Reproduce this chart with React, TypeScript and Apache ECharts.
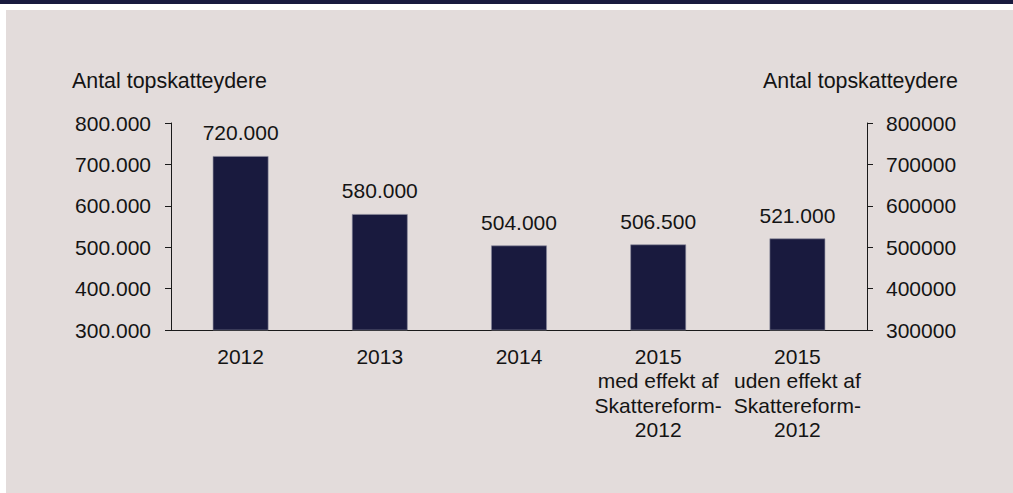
import React, { useEffect, useRef } from "react";
import * as echarts from "echarts";

const categories = [
  "2012",
  "2013",
  "2014",
  "2015\nmed effekt af\nSkattereform-\n2012",
  "2015\nuden effekt af\nSkattereform-\n2012",
];
const values = [720000, 580000, 504000, 506500, 521000];
const axisName = "Antal topskatteydere";
const yMin = 300000;
const yMax = 800000;
const yStep = 100000;

const FONT = "'Liberation Sans', Arial, sans-serif";
const BG = "#e3dcdb";
const NAVY = "#191a3e";
const TEXT = "#141414";

const dotThousands = (v: number) =>
  String(Math.round(v)).replace(/\B(?=(\d{3})+(?!\d))/g, ".");

export default function App() {
  const ref = useRef<HTMLDivElement>(null);
  useEffect(() => {
    if (!ref.current) return;
    const chart = echarts.init(ref.current, undefined, { renderer: "svg" });
    chart.setOption({
      animation: false,
      backgroundColor: "#ffffff",
      textStyle: { fontFamily: FONT },
      graphic: [
        { type: "rect", z: -10, shape: { x: 0, y: 0, width: 1013, height: 4 }, style: { fill: NAVY } },
        { type: "rect", z: -10, shape: { x: 6, y: 10, width: 1007, height: 483 }, style: { fill: BG } },
        {
          type: "text",
          x: 72,
          y: 70,
          style: { text: axisName, font: `21.4px ${FONT}`, fill: TEXT, align: "left" },
        },
        {
          type: "text",
          x: 958,
          y: 70,
          style: { text: axisName, font: `21.4px ${FONT}`, fill: TEXT, align: "right" },
        },
      ],
      grid: { left: 171, right: 146, top: 123, bottom: 163, containLabel: false },
      xAxis: {
        type: "category",
        data: categories,
        axisLine: { lineStyle: { color: "#1a1a1a", width: 1 } },
        axisTick: { show: false },
        axisLabel: {
          color: TEXT,
          fontSize: 21,
          fontFamily: FONT,
          lineHeight: 24.5,
          margin: 14,
          interval: 0,
        },
      },
      yAxis: [
        {
          type: "value",
          min: yMin,
          max: yMax,
          interval: yStep,
          position: "left",
          splitLine: { show: false },
          axisLine: { show: true, lineStyle: { color: "#1a1a1a", width: 1 } },
          axisTick: { show: true, length: 6, lineStyle: { color: "#1a1a1a" } },
          axisLabel: {
            color: TEXT,
            fontSize: 21,
            fontFamily: FONT,
            margin: 20,
            formatter: (v: number) => dotThousands(v),
          },
        },
        {
          type: "value",
          min: yMin,
          max: yMax,
          interval: yStep,
          position: "right",
          splitLine: { show: false },
          axisLine: { show: true, lineStyle: { color: "#1a1a1a", width: 1 } },
          axisTick: { show: true, length: 6, lineStyle: { color: "#1a1a1a" } },
          axisLabel: {
            color: TEXT,
            fontSize: 21,
            fontFamily: FONT,
            margin: 19,
            formatter: (v: number) => String(v),
          },
        },
      ],
      series: [
        {
          type: "bar",
          data: values,
          barWidth: "40%",
          itemStyle: { color: NAVY, borderColor: "#8a8a9c", borderWidth: 0.6 },
          label: {
            show: true,
            position: "top",
            distance: 13,
            color: TEXT,
            fontSize: 21,
            fontFamily: FONT,
            formatter: (p: any) => dotThousands(p.value),
          },
        },
      ],
    });
    return () => chart.dispose();
  }, []);
  return (
    <div
      ref={ref}
      style={{ position: "fixed", left: 0, top: 0, width: 1013, height: 493 }}
    />
  );
}
